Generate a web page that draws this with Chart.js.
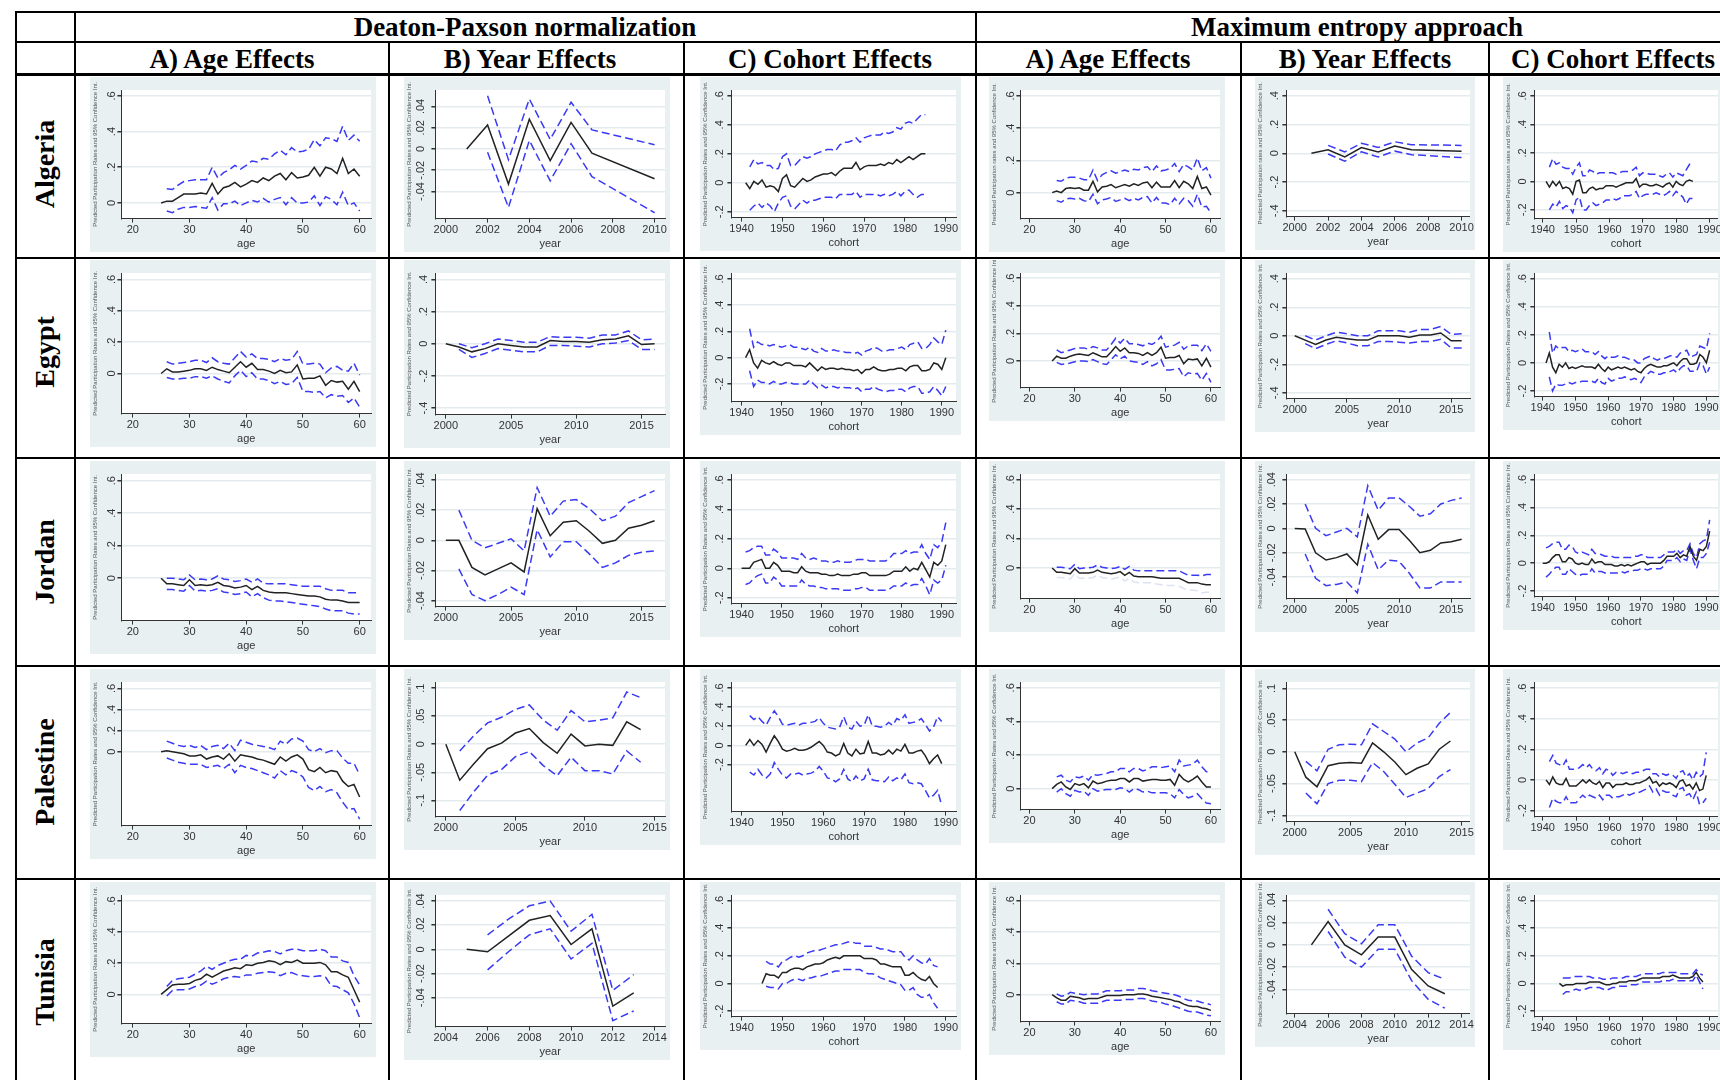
<!DOCTYPE html>
<html>
<head>
<meta charset="utf-8">
<title>Age, year and cohort effects</title>
<script src="https://cdn.jsdelivr.net/npm/chart.js@4.4.1/dist/chart.umd.min.js"></script>
<style>
  html, body { margin: 0; padding: 0; background: #fff; }
  #sheet { position: relative; width: 1720px; height: 1080px; overflow: hidden; background: #fff; }
  .rule { position: absolute; background: #000; }
  .head { position: absolute; font: bold 27px 'Liberation Serif', 'Times New Roman', serif; color: #000;
          white-space: nowrap; line-height: 1; transform: translate(-50%, -50%); }
  .country { font-size: 28px; transform: translate(-50%, -50%) rotate(-90deg); }
  .panel { position: absolute; }
  .panel canvas { display: block; }
</style>
</head>
<body>
<div id="sheet"></div>
<script>
(function () {
    "use strict";

    // ---------- x values ----------
    var ages = [25, 26, 27, 28, 29, 30, 31, 32, 33, 34, 35, 36, 37, 38, 39, 40, 41, 42, 43, 44, 45, 46, 47, 48, 49, 50, 51, 52, 53, 54, 55, 56, 57, 58, 59, 60];
    var algYears = [2001, 2002, 2003, 2004, 2005, 2006, 2007, 2010];
    var egyYears = [2000, 2001, 2002, 2003, 2004, 2005, 2006, 2007, 2008, 2009, 2010, 2011, 2012, 2013, 2014, 2015, 2016];
    var jorYears = [2000, 2001, 2002, 2003, 2004, 2005, 2006, 2007, 2008, 2009, 2010, 2011, 2012, 2013, 2014, 2015, 2016];
    var palYears = [2000, 2001, 2002, 2003, 2004, 2005, 2006, 2007, 2008, 2009, 2010, 2011, 2012, 2013, 2014];
    var tunYears = [2005, 2006, 2007, 2008, 2009, 2010, 2011, 2012, 2013];
    var algCohorts = [1941, 1942, 1943, 1944, 1945, 1946, 1947, 1948, 1949, 1950, 1951, 1952, 1953, 1954, 1955, 1956, 1957, 1958, 1959, 1960, 1961, 1962, 1963, 1964, 1965, 1966, 1967, 1968, 1969, 1970, 1971, 1972, 1973, 1974, 1975, 1976, 1977, 1978, 1979, 1980, 1981, 1982, 1983, 1984, 1985];
    var egyCohorts = [1941, 1942, 1943, 1944, 1945, 1946, 1947, 1948, 1949, 1950, 1951, 1952, 1953, 1954, 1955, 1956, 1957, 1958, 1959, 1960, 1961, 1962, 1963, 1964, 1965, 1966, 1967, 1968, 1969, 1970, 1971, 1972, 1973, 1974, 1975, 1976, 1977, 1978, 1979, 1980, 1981, 1982, 1983, 1984, 1985, 1986, 1987, 1988, 1989, 1990, 1991];
    var jorCohorts = [1940, 1941, 1942, 1943, 1944, 1945, 1946, 1947, 1948, 1949, 1950, 1951, 1952, 1953, 1954, 1955, 1956, 1957, 1958, 1959, 1960, 1961, 1962, 1963, 1964, 1965, 1966, 1967, 1968, 1969, 1970, 1971, 1972, 1973, 1974, 1975, 1976, 1977, 1978, 1979, 1980, 1981, 1982, 1983, 1984, 1985, 1986, 1987, 1988, 1989, 1990, 1991];
    var palCohorts = [1941, 1942, 1943, 1944, 1945, 1946, 1947, 1948, 1949, 1950, 1951, 1952, 1953, 1954, 1955, 1956, 1957, 1958, 1959, 1960, 1961, 1962, 1963, 1964, 1965, 1966, 1967, 1968, 1969, 1970, 1971, 1972, 1973, 1974, 1975, 1976, 1977, 1978, 1979, 1980, 1981, 1982, 1983, 1984, 1985, 1986, 1987, 1988, 1989];
    var tunCohorts = [1945, 1946, 1947, 1948, 1949, 1950, 1951, 1952, 1953, 1954, 1955, 1956, 1957, 1958, 1959, 1960, 1961, 1962, 1963, 1964, 1965, 1966, 1967, 1968, 1969, 1970, 1971, 1972, 1973, 1974, 1975, 1976, 1977, 1978, 1979, 1980, 1981, 1982, 1983, 1984, 1985, 1986, 1987, 1988];

    // ---------- tick labels ----------
    var ageTicksX = [20, 30, 40, 50, 60];
    var ageTicksY = [0, 0.2, 0.4, 0.6];
    var cohortTicksX = [1940, 1950, 1960, 1970, 1980, 1990];
    var cohortTicksY = [-0.2, 0, 0.2, 0.4, 0.6];
    var algYearTicksX = [2000, 2002, 2004, 2006, 2008, 2010];
    var tunYearTicksX = [2004, 2006, 2008, 2010, 2012, 2014];
    var yearTicksX5 = [2000, 2005, 2010, 2015];
    var smallYearTicksY = [-0.04, -0.02, 0, 0.02, 0.04];
    var wideYearTicksY = [-0.4, -0.2, 0, 0.2, 0.4];
    var palYearTicksY = [-0.1, -0.05, 0, 0.05, 0.1];

    // ---------- Algeria ----------
    var algDpAgeEst = [0, .01, .01, .03, .05, .05, .05, .055, .05, .11, .05, .085, .095, .115, .09, .105, .125, .115, .14, .125, .15, .165, .13, .17, .14, .145, .155, .2, .15, .2, .19, .165, .25, .165, .19, .15];
    var algDpAgeHi = [null, .08, .075, .1, .12, .125, .13, .13, .13, .2, .14, .17, .185, .21, .19, .21, .235, .23, .25, .245, .275, .295, .27, .31, .285, .29, .3, .355, .32, .365, .36, .345, .43, .35, .38, .345];
    var algDpAgeLo = [null, -.045, -.055, -.035, -.025, -.025, -.02, -.025, -.03, .03, -.04, -.005, -.005, .01, -.015, 0, .015, .005, .025, .005, .02, .03, -.01, .03, 0, 0, .005, .04, -.015, .035, .02, -.01, .06, -.015, 0, -.045];
    var algDpYearEst = [0, .0225, -.033, .028, -.011, .025, -.004, -.028];
    var algDpYearHi = [null, .05, -.01, .047, .009, .044, .018, .004];
    var algDpYearLo = [null, -.003, -.055, .008, -.03, .005, -.026, -.06];
    var algDpCohEst = [0, -.04, .01, -.01, .02, -.03, -.02, -.03, -.06, .03, .055, -.02, -.03, 0, .03, .01, .02, .04, .05, .06, .06, .07, .05, .08, .1, .1, .1, .14, .09, .11, .12, .12, .12, .13, .12, .14, .13, .16, .14, .16, .18, .16, .18, .2, .2];
    var algDpCohHi = [null, .11, .16, .13, .14, .12, .12, .09, .1, .18, .2, .12, .12, .15, .18, .17, .18, .2, .21, .22, .23, .23, .22, .26, .28, .28, .29, .31, .28, .31, .32, .33, .33, .33, .35, .34, .35, .38, .37, .41, .42, .41, .44, .47, .47];
    var algDpCohLo = [null, -.19, -.16, -.14, -.17, -.14, -.16, -.2, -.14, -.1, -.09, -.16, -.18, -.15, -.12, -.14, -.12, -.12, -.11, -.1, -.1, -.1, -.11, -.08, -.08, -.08, -.08, -.06, -.1, -.08, -.08, -.08, -.08, -.09, -.08, -.09, -.08, -.06, -.09, -.06, -.05, -.08, -.1, -.08, -.08];
    var algMeAgeEst = [0, .01, 0, .025, .03, .025, .03, .015, .015, .07, .005, .035, .04, .05, .03, .04, .05, .04, .055, .045, .06, .065, .03, .065, .035, .035, .035, .075, .03, .07, .055, .025, .1, .025, .035, -.015];
    var algMeAgeHi = [null, .075, .07, .09, .095, .095, .09, .08, .08, .14, .075, .11, .125, .135, .12, .13, .14, .13, .145, .14, .155, .16, .13, .165, .135, .14, .15, .18, .13, .175, .16, .14, .215, .135, .155, .09];
    var algMeAgeLo = [null, -.05, -.06, -.04, -.035, -.04, -.035, -.05, -.055, -.01, -.07, -.045, -.04, -.03, -.055, -.045, -.035, -.05, -.035, -.045, -.03, -.025, -.065, -.03, -.065, -.065, -.075, -.035, -.07, -.035, -.05, -.085, -.01, -.09, -.085, -.125];
    var algMeYearEst = [0, .025, -.025, .04, .01, .05, .025, .015];
    var algMeYearHi = [null, .055, .01, .07, .04, .08, .06, .055];
    var algMeYearLo = [null, -.005, -.055, .01, -.025, .015, -.01, -.03];
    var algMeCohEst = [0, -.04, 0, -.03, 0, -.05, -.04, -.05, -.09, 0, .01, -.08, -.08, -.05, -.04, -.06, -.05, -.05, -.03, -.03, -.03, -.04, -.03, -.02, -.01, -.01, -.01, .02, -.04, -.02, -.02, -.03, -.03, -.02, -.03, -.04, -.02, -.01, -.04, 0, -.02, -.03, 0, .01, 0];
    var algMeCohHi = [null, .1, .16, .12, .13, .1, .09, .09, .05, .1, .13, .04, .04, .08, .07, .05, .06, .06, .06, .06, .06, .05, .06, .07, .07, .07, .08, .1, .04, .06, .06, .05, .05, .05, .04, .03, .05, .06, .03, .06, .05, .04, .08, .12, .12];
    var algMeCohLo = [null, -.2, -.16, -.18, -.14, -.19, -.17, -.18, -.22, -.13, -.11, -.2, -.2, -.17, -.15, -.17, -.16, -.15, -.13, -.13, -.12, -.13, -.12, -.1, -.1, -.1, -.09, -.07, -.12, -.1, -.09, -.09, -.09, -.08, -.09, -.1, -.09, -.07, -.1, -.07, -.09, -.11, -.16, -.12, -.12];

    // ---------- Egypt ----------
    var egyDpAgeEst = [0, .03, .01, .01, .015, .02, .03, .03, .02, .04, .025, .015, .005, .04, .075, .04, .065, .025, .025, .015, 0, .02, .005, .01, .055, -.035, -.03, -.03, -.015, -.075, -.045, -.055, -.05, -.1, -.05, -.115];
    var egyDpAgeHi = [null, .075, .06, .065, .07, .075, .085, .085, .07, .1, .075, .065, .06, .1, .14, .105, .125, .095, .095, .09, .075, .095, .085, .09, .14, .06, .06, .065, .06, .005, .035, .045, .02, .015, .065, -.01];
    var egyDpAgeLo = [null, -.025, -.035, -.035, -.03, -.03, -.02, -.02, -.03, -.015, -.035, -.05, -.06, -.015, .02, -.02, .005, -.035, -.035, -.045, -.065, -.05, -.07, -.065, -.025, -.115, -.115, -.12, -.115, -.155, -.135, -.145, -.14, -.185, -.155, -.215];
    var egyDpYearEst = [0, -.02, -.05, -.03, 0, -.01, -.02, -.02, .02, .015, .015, .01, .025, .03, .05, -.005, 0];
    var egyDpYearHi = [null, 0, -.025, 0, .03, .02, .01, .01, .045, .04, .04, .035, .055, .055, .08, .025, .03];
    var egyDpYearLo = [null, -.035, -.085, -.06, -.03, -.04, -.05, -.05, -.01, -.01, -.015, -.02, 0, .005, .02, -.035, -.035];
    var egyDpCohEst = [0, .06, -.04, -.08, -.02, -.04, -.05, -.03, -.05, -.06, -.04, -.04, -.06, -.06, -.06, -.07, -.04, -.07, -.1, -.07, -.09, -.08, -.08, -.09, -.08, -.09, -.09, -.1, -.09, -.12, -.09, -.09, -.07, -.09, -.1, -.1, -.09, -.09, -.08, -.08, -.1, -.07, -.06, -.06, -.1, -.1, -.09, -.04, -.05, -.09, 0];
    var egyDpCohHi = [null, .22, .08, .12, .1, .1, .09, .1, .09, .08, .09, .1, .08, .08, .07, .06, .08, .05, .04, .07, .05, .05, .06, .05, .05, .04, .04, .03, .04, .02, .05, .06, .08, .07, .05, .05, .06, .06, .07, .08, .06, .1, .11, .12, .07, .07, .1, .15, .12, .1, .21];
    var egyDpCohLo = [null, -.1, -.22, -.17, -.19, -.19, -.2, -.18, -.2, -.2, -.19, -.19, -.2, -.2, -.2, -.2, -.17, -.2, -.23, -.21, -.23, -.22, -.22, -.23, -.22, -.23, -.23, -.24, -.23, -.26, -.24, -.24, -.22, -.24, -.25, -.26, -.25, -.25, -.24, -.24, -.26, -.23, -.22, -.22, -.27, -.27, -.26, -.22, -.25, -.29, -.22];
    var egyMeAgeEst = [0, .035, .02, .02, .035, .045, .05, .045, .04, .06, .045, .03, .03, .065, .105, .07, .095, .06, .06, .055, .04, .06, .04, .06, .1, .02, .025, .025, .04, -.02, .015, .01, .015, -.035, .02, -.045];
    var egyMeAgeHi = [null, .08, .06, .07, .08, .09, .095, .095, .085, .105, .095, .08, .08, .12, .165, .13, .165, .125, .125, .12, .11, .13, .12, .14, .18, .1, .11, .115, .135, .085, .11, .115, .115, .075, .125, .07];
    var egyMeAgeLo = [null, -.01, -.025, -.02, -.015, -.005, 0, 0, -.005, .01, -.005, -.02, -.025, .01, .045, .015, .035, 0, -.005, -.01, -.025, -.005, -.035, -.02, .01, -.065, -.065, -.06, -.055, -.115, -.085, -.095, -.09, -.14, -.09, -.155];
    var egyMeYearEst = [0, -.03, -.06, -.03, -.01, -.02, -.03, -.03, 0, 0, 0, -.01, .005, .005, .02, -.035, -.035];
    var egyMeYearHi = [null, 0, -.03, 0, .025, .015, 0, 0, .035, .035, .035, .025, .045, .045, .065, .01, .015];
    var egyMeYearLo = [null, -.055, -.09, -.06, -.035, -.05, -.07, -.07, -.04, -.04, -.045, -.05, -.04, -.04, -.025, -.085, -.085];
    var egyMeCohEst = [0, .07, -.03, -.07, -.01, -.03, 0, -.04, -.03, -.04, -.03, -.02, -.03, -.03, -.03, -.04, -.01, -.04, -.06, -.03, -.05, -.04, -.03, -.04, -.03, -.04, -.05, -.04, -.06, -.07, -.04, -.02, -.01, -.02, -.03, -.03, -.02, -.02, -.01, 0, -.02, .01, .03, .03, -.01, -.01, 0, .06, .04, 0, .09];
    var egyMeCohHi = [null, .22, .07, .12, .1, .11, .11, .08, .09, .08, .09, .1, .08, .08, .08, .06, .08, .05, .03, .05, .04, .04, .05, .04, .04, .03, .02, .02, 0, 0, .03, .04, .05, .03, .02, .03, .03, .04, .05, .05, .04, .07, .08, .09, .04, .05, .06, .12, .11, .1, .21];
    var egyMeCohLo = [null, -.1, -.2, -.15, -.16, -.16, -.15, -.14, -.15, -.14, -.14, -.13, -.13, -.13, -.13, -.14, -.11, -.14, -.15, -.11, -.13, -.12, -.11, -.11, -.1, -.11, -.12, -.11, -.12, -.14, -.1, -.08, -.06, -.07, -.08, -.08, -.07, -.07, -.06, -.05, -.07, -.04, -.02, -.02, -.06, -.06, -.06, 0, -.02, -.08, -.03];

    // ---------- Jordan ----------
    var jorDpAgeEst = [0, -.035, -.035, -.04, -.045, -.01, -.045, -.04, -.045, -.04, -.025, -.045, -.05, -.06, -.055, -.045, -.07, -.05, -.075, -.085, -.09, -.09, -.09, -.095, -.1, -.105, -.11, -.11, -.115, -.13, -.135, -.135, -.14, -.15, -.15, -.15];
    var jorDpAgeHi = [null, 0, 0, -.005, -.01, .02, -.01, -.005, -.01, -.005, .015, -.005, -.01, -.02, -.015, -.005, -.025, -.005, -.03, -.035, -.035, -.035, -.035, -.04, -.045, -.05, -.05, -.05, -.05, -.065, -.075, -.075, -.075, -.09, -.09, -.09];
    var jorDpAgeLo = [null, -.07, -.07, -.075, -.08, -.045, -.08, -.075, -.08, -.075, -.065, -.085, -.09, -.1, -.095, -.085, -.115, -.095, -.12, -.135, -.14, -.14, -.145, -.15, -.155, -.16, -.165, -.17, -.175, -.19, -.2, -.2, -.2, -.215, -.22, -.22];
    var jorDpYearEst = [0, 0, -.018, -.023, -.019, -.015, -.021, .021, .003, .012, .013, .006, -.002, 0, .008, .01, .013];
    var jorDpYearHi = [null, .02, 0, -.005, -.002, .001, -.007, .035, .016, .026, .027, .021, .013, .016, .025, .029, .033];
    var jorDpYearLo = [null, -.019, -.036, -.04, -.036, -.031, -.036, .007, -.011, -.001, -.001, -.009, -.018, -.015, -.01, -.008, -.007];
    var jorDpCohEst = [0, 0, 0, .04, .05, .06, 0, 0, .04, .02, -.02, -.02, -.02, -.03, -.03, .01, -.02, -.03, -.03, -.03, -.04, -.04, -.05, -.05, -.04, -.05, -.05, -.05, -.04, -.04, -.03, -.03, -.05, -.05, -.05, -.05, -.05, -.04, -.02, -.02, -.02, .01, -.02, 0, -.01, .04, -.01, -.06, .04, .02, .05, .16];
    var jorDpCohHi = [null, .11, .12, .14, .15, .15, .09, .09, .13, .11, .07, .07, .07, .07, .06, .1, .07, .06, .07, .06, .05, .05, .04, .04, .05, .04, .04, .04, .05, .06, .06, .06, .05, .05, .05, .05, .05, .07, .1, .1, .1, .12, .1, .11, .11, .16, .1, .06, .16, .14, .18, .31];
    var jorDpCohLo = [null, -.11, -.1, -.07, -.05, -.04, -.1, -.1, -.06, -.08, -.12, -.12, -.12, -.12, -.12, -.08, -.11, -.12, -.12, -.13, -.13, -.14, -.14, -.14, -.14, -.15, -.15, -.15, -.14, -.14, -.13, -.13, -.15, -.15, -.15, -.15, -.15, -.14, -.12, -.12, -.12, -.1, -.12, -.11, -.11, -.07, -.12, -.18, -.08, -.1, -.08, .02];
    var jorMeAgeEst = [0, -.03, -.03, -.035, -.04, -.005, -.035, -.035, -.035, -.03, -.015, -.03, -.035, -.04, -.035, -.025, -.05, -.03, -.055, -.06, -.06, -.06, -.06, -.065, -.07, -.07, -.07, -.07, -.07, -.085, -.1, -.1, -.1, -.11, -.115, -.115];
    var jorMeAgeHi = [null, .005, .005, 0, -.005, .025, -.005, 0, 0, .005, .02, .005, 0, -.005, 0, .01, -.01, .01, -.015, -.02, -.02, -.02, -.02, -.02, -.02, -.02, -.02, -.02, -.02, -.035, -.05, -.05, -.05, -.055, -.045, -.045];
    var jorMeAgeLo = [null, -.065, -.065, -.07, -.075, -.04, -.07, -.07, -.07, -.065, -.05, -.065, -.07, -.075, -.07, -.06, -.09, -.07, -.095, -.1, -.1, -.1, -.1, -.11, -.115, -.12, -.12, -.12, -.125, -.14, -.15, -.15, -.155, -.17, -.165, -.165];
    var jorMeYearEst = [0, -.0005, -.02, -.026, -.024, -.021, -.03, .011, -.009, -.001, -.001, -.01, -.02, -.018, -.012, -.011, -.009];
    var jorMeYearHi = [null, .02, 0, -.006, -.003, 0, -.007, .035, .015, .025, .025, .018, .01, .012, .02, .023, .025];
    var jorMeYearLo = [null, -.021, -.041, -.047, -.046, -.044, -.053, -.013, -.034, -.026, -.027, -.037, -.049, -.049, -.044, -.044, -.044];
    var jorMeCohEst = [0, 0, .01, .04, .06, .06, .01, .01, .04, .03, 0, -.01, 0, -.01, -.01, .03, 0, .01, .01, -.01, -.01, -.01, -.02, -.02, -.01, -.02, -.01, -.02, -.01, 0, .01, .01, -.01, 0, 0, 0, 0, .02, .05, .05, .05, .07, .04, .06, .05, .12, .05, .02, .1, .09, .12, .23];
    var jorMeCohHi = [null, .11, .12, .14, .15, .15, .1, .1, .13, .12, .08, .07, .08, .07, .06, .1, .07, .07, .06, .05, .05, .05, .04, .04, .04, .04, .04, .04, .05, .05, .06, .06, .04, .04, .04, .04, .04, .06, .08, .08, .08, .1, .07, .09, .09, .14, .07, .04, .14, .16, .17, .31];
    var jorMeCohLo = [null, -.1, -.08, -.05, -.03, -.03, -.08, -.08, -.04, -.06, -.08, -.09, -.08, -.08, -.08, -.04, -.07, -.06, -.06, -.07, -.07, -.07, -.07, -.07, -.06, -.07, -.06, -.06, -.05, -.05, -.04, -.04, -.05, -.04, -.04, -.04, -.04, -.02, .02, .02, .02, .04, .01, .03, .02, .1, .02, -.04, .04, .04, .07, .15];

    // ---------- Palestine ----------
    var palDpAgeEst = [0, .01, 0, -.01, -.02, -.04, -.04, -.03, -.07, -.05, -.04, -.07, -.02, -.09, -.03, -.04, -.05, -.07, -.08, -.1, -.12, -.05, -.09, -.05, -.03, -.07, -.17, -.19, -.15, -.2, -.18, -.19, -.28, -.33, -.31, -.43];
    var palDpAgeHi = [null, .1, .08, .06, .05, .06, .04, .06, .02, .05, .06, .03, .08, .01, .11, .09, .07, .06, .05, .04, .02, .1, .07, .12, .13, .1, .02, 0, .03, -.01, .01, .01, -.06, -.11, -.11, -.22];
    var palDpAgeLo = [null, -.06, -.08, -.1, -.11, -.12, -.12, -.12, -.15, -.14, -.13, -.16, -.12, -.2, -.13, -.15, -.16, -.18, -.2, -.22, -.25, -.18, -.22, -.18, -.2, -.24, -.34, -.37, -.33, -.38, -.36, -.39, -.48, -.55, -.54, -.64];
    var palDpYearEst = [0, -.064, -.035, -.008, .002, .02, .028, .003, -.016, .018, -.003, 0, -.002, .04, .026];
    var palDpYearHi = [null, -.012, .015, .038, .048, .062, .07, .043, .025, .06, .04, .043, .047, .093, .083];
    var palDpYearLo = [null, -.118, -.085, -.055, -.045, -.022, -.013, -.038, -.056, -.023, -.047, -.047, -.053, -.012, -.032];
    var palDpCohEst = [0, .06, 0, .05, .01, -.07, .02, .1, .04, -.04, -.06, -.05, -.03, -.05, -.05, -.04, -.02, .01, .04, 0, -.07, -.08, -.11, -.09, .02, -.08, -.11, -.04, -.09, -.08, .04, -.08, -.08, -.1, -.09, -.05, -.09, -.04, -.06, .01, -.08, -.08, -.06, -.05, -.11, -.19, -.14, -.1, -.19];
    var palDpCohHi = [null, .31, .27, .3, .25, .21, .29, .36, .3, .22, .21, .22, .23, .21, .23, .23, .24, .25, .29, .23, .19, .18, .17, .19, .3, .19, .17, .25, .2, .21, .32, .2, .2, .19, .2, .24, .21, .28, .26, .32, .23, .24, .25, .28, .22, .15, .19, .3, .25];
    var palDpCohLo = [null, -.28, -.31, -.25, -.31, -.34, -.3, -.18, -.25, -.31, -.34, -.3, -.3, -.29, -.31, -.3, -.29, -.27, -.22, -.27, -.34, -.35, -.38, -.35, -.25, -.35, -.38, -.32, -.37, -.35, -.25, -.36, -.37, -.37, -.38, -.33, -.37, -.34, -.36, -.3, -.39, -.4, -.39, -.4, -.47, -.55, -.52, -.47, -.63];
    var palMeAgeEst = [0, .025, .04, .01, -.005, .03, .02, .03, .005, .045, .03, .035, .045, .05, .05, .06, .06, .04, .06, .06, .045, .05, .055, .055, .05, .05, .055, .02, .085, .055, .04, .055, .075, .04, .01, .01];
    var palMeAgeHi = [null, .07, .08, .05, .04, .07, .065, .075, .05, .085, .08, .085, .09, .1, .1, .12, .12, .1, .12, .12, .105, .115, .13, .13, .125, .13, .135, .1, .17, .135, .14, .145, .17, .13, .1, .1];
    var palMeAgeLo = [null, -.02, 0, -.03, -.045, -.01, -.02, -.015, -.04, 0, -.015, -.01, -.005, -.005, -.005, .005, 0, -.02, 0, -.005, -.02, -.015, -.025, -.025, -.025, -.025, -.03, -.055, -.005, -.035, -.055, -.045, -.03, -.06, -.085, -.09];
    var palMeYearEst = [0, -.04, -.055, -.022, -.018, -.017, -.018, .014, 0, -.016, -.036, -.026, -.019, .004, .017];
    var palMeYearHi = [null, -.015, -.03, .004, .011, .012, .011, .044, .032, .02, 0, .014, .022, .045, .062];
    var palMeYearLo = [null, -.065, -.082, -.05, -.045, -.045, -.047, -.017, -.031, -.051, -.072, -.065, -.058, -.039, -.028];
    var palMeCohEst = [0, -.03, .02, -.02, -.03, -.03, .01, -.04, -.04, -.04, -.02, 0, -.02, 0, -.02, -.03, -.01, -.05, -.02, -.02, -.05, -.03, -.03, -.03, -.02, -.03, -.03, -.02, -.02, -.01, 0, .02, -.02, -.01, -.04, -.02, -.03, -.02, -.03, -.05, -.01, 0, -.04, -.03, -.06, -.02, -.07, -.06, .03];
    var palMeCohHi = [null, .12, .16, .11, .1, .09, .13, .07, .07, .07, .08, .1, .08, .1, .07, .06, .08, .04, .07, .06, .03, .05, .05, .04, .05, .05, .04, .05, .05, .06, .07, .07, .04, .04, .02, .04, .03, .04, .03, .01, .05, .06, .02, .04, 0, .05, .02, .04, .18];
    var palMeCohLo = [null, -.18, -.12, -.14, -.15, -.15, -.11, -.15, -.15, -.15, -.12, -.1, -.12, -.1, -.11, -.12, -.1, -.13, -.1, -.1, -.12, -.11, -.11, -.1, -.09, -.1, -.09, -.08, -.08, -.07, -.06, -.04, -.08, -.06, -.1, -.07, -.08, -.08, -.1, -.11, -.06, -.05, -.1, -.09, -.13, -.08, -.16, -.15, -.12];

    // ---------- Tunisia ----------
    var tunDpAgeEst = [0, .03, .06, .065, .065, .07, .09, .1, .13, .11, .13, .15, .16, .17, .165, .19, .185, .2, .205, .215, .21, .19, .21, .205, .22, .2, .2, .2, .205, .19, .145, .145, .125, .11, .03, -.05];
    var tunDpAgeHi = [null, .05, .09, .1, .105, .11, .13, .15, .18, .16, .185, .2, .215, .225, .225, .25, .245, .265, .27, .28, .275, .26, .28, .29, .29, .28, .28, .28, .29, .28, .24, .24, .215, .205, .12, .06];
    var tunDpAgeLo = [null, -.01, .025, .03, .03, .035, .05, .06, .085, .065, .08, .1, .11, .115, .11, .125, .125, .135, .14, .145, .14, .12, .135, .14, .125, .12, .115, .115, .12, .11, .055, .05, .03, .01, -.06, -.15];
    var tunDpYearEst = [0, -.002, .011, .024, .028, .004, .017, -.047, -.036];
    var tunDpYearHi = [null, .012, .025, .036, .04, .015, .029, -.034, -.021];
    var tunDpYearLo = [null, -.017, -.002, .012, .017, -.008, .005, -.059, -.051];
    var tunDpCohEst = [0, .07, .06, .06, .04, .08, .08, .1, .11, .11, .1, .12, .13, .14, .14, .15, .17, .18, .19, .18, .2, .2, .2, .2, .2, .18, .18, .18, .17, .14, .14, .13, .12, .12, .12, .06, .06, .08, .05, .03, .02, .05, 0, -.03];
    var tunDpCohHi = [null, .16, .14, .14, .12, .16, .17, .19, .2, .19, .2, .22, .23, .24, .24, .25, .26, .27, .28, .28, .29, .3, .3, .29, .29, .27, .27, .27, .26, .25, .25, .24, .23, .23, .23, .19, .17, .2, .17, .15, .14, .18, .13, .12];
    var tunDpCohLo = [null, -.02, -.03, -.03, -.04, 0, 0, .02, .03, .03, .02, .04, .04, .05, .05, .06, .07, .08, .09, .09, .1, .1, .1, .1, .1, .08, .07, .07, .06, .04, .03, .02, .01, 0, -.01, -.05, -.05, -.03, -.08, -.1, -.1, -.08, -.14, -.18];
    var tunMeAgeEst = [0, -.02, -.035, -.035, -.01, -.015, -.02, -.03, -.025, -.025, -.025, -.015, -.005, -.005, -.005, -.005, 0, 0, 0, .005, .005, 0, -.01, -.015, -.02, -.025, -.03, -.04, -.045, -.06, -.07, -.075, -.075, -.085, -.09, -.1];
    var tunMeAgeHi = [null, .005, -.01, -.005, .015, .01, .005, 0, .005, .005, .005, .015, .025, .025, .025, .025, .03, .03, .03, .04, .04, .035, .025, .02, .015, .01, .005, 0, -.01, -.025, -.035, -.04, -.04, -.05, -.055, -.065];
    var tunMeAgeLo = [null, -.045, -.06, -.06, -.035, -.04, -.045, -.055, -.055, -.055, -.055, -.045, -.035, -.035, -.035, -.035, -.03, -.03, -.03, -.025, -.025, -.03, -.04, -.045, -.05, -.06, -.065, -.075, -.085, -.095, -.105, -.11, -.11, -.12, -.13, -.135];
    var tunMeYearEst = [0, .021, 0, -.009, .007, .007, -.022, -.037, -.044];
    var tunMeYearHi = [null, .032, .01, .001, .018, .018, -.01, -.025, -.031];
    var tunMeYearLo = [null, .012, -.011, -.02, -.004, -.004, -.032, -.049, -.057];
    var tunMeCohEst = [0, -.02, -.01, -.01, -.01, 0, 0, 0, 0, .01, .01, .01, .01, 0, -.01, -.01, 0, 0, .01, .01, .01, .02, .02, .02, .03, .04, .04, .04, .04, .04, .04, .05, .05, .05, .06, .05, .04, .04, .04, .04, .05, .08, .04, .01];
    var tunMeCohHi = [null, .04, .04, .04, .05, .05, .05, .05, .05, .05, .04, .04, .04, .03, .03, .03, .04, .04, .04, .04, .05, .05, .05, .05, .06, .07, .07, .07, .07, .07, .07, .08, .08, .08, .08, .08, .07, .07, .07, .07, .07, .1, .07, .06];
    var tunMeCohLo = [null, -.08, -.06, -.06, -.05, -.04, -.05, -.04, -.04, -.03, -.03, -.03, -.03, -.04, -.05, -.04, -.03, -.03, -.02, -.02, -.02, -.01, -.01, -.01, 0, .01, .01, .01, .01, .01, .01, .02, .02, .02, .03, .02, .02, .02, .02, .02, .02, .06, .01, -.04];

    // ---------- page layout ----------
    var titleRates = 'Predicted Participation Rates and 95% Confidence Int.';
    var titleRatesLc = 'Predicted Participation rates and 95% Confidence Int.';
    var colSpan = [[90, 376], [404, 670], [700, 961], [989, 1225], [1255, 1475], [1503, 1723]];
    var rowBox = {
        alg: { top: 77, bottoms: [252, 252, 251, 252, 250, 252] },
        egy: { top: 260, bottoms: [447, 448, 435, 421, 432, 430] },
        jor: { top: 461, bottoms: [654, 640, 637, 632, 632, 630] },
        pal: { top: 669, bottoms: [859, 850, 845, 843, 855, 850] },
        tun: { top: 882, bottoms: [1057, 1060, 1050, 1055, 1047, 1050] }
    };

    // row, column, x, estimate, upper, lower, x ticks, y ticks, x title, y title, faint lower bound
    var panels = [
        ['alg', 0, ages, algDpAgeEst, algDpAgeHi, algDpAgeLo, ageTicksX, ageTicksY, 'age', titleRates],
        ['alg', 1, algYears, algDpYearEst, algDpYearHi, algDpYearLo, algYearTicksX, smallYearTicksY, 'year', titleRates],
        ['alg', 2, algCohorts, algDpCohEst, algDpCohHi, algDpCohLo, cohortTicksX, cohortTicksY, 'cohort', titleRates],
        ['alg', 3, ages, algMeAgeEst, algMeAgeHi, algMeAgeLo, ageTicksX, ageTicksY, 'age', titleRatesLc],
        ['alg', 4, algYears, algMeYearEst, algMeYearHi, algMeYearLo, algYearTicksX, wideYearTicksY, 'year', titleRatesLc],
        ['alg', 5, algCohorts, algMeCohEst, algMeCohHi, algMeCohLo, cohortTicksX, cohortTicksY, 'cohort', titleRatesLc],

        ['egy', 0, ages, egyDpAgeEst, egyDpAgeHi, egyDpAgeLo, ageTicksX, ageTicksY, 'age', titleRates],
        ['egy', 1, egyYears, egyDpYearEst, egyDpYearHi, egyDpYearLo, yearTicksX5, wideYearTicksY, 'year', titleRates],
        ['egy', 2, egyCohorts, egyDpCohEst, egyDpCohHi, egyDpCohLo, cohortTicksX, cohortTicksY, 'cohort', titleRates],
        ['egy', 3, ages, egyMeAgeEst, egyMeAgeHi, egyMeAgeLo, ageTicksX, ageTicksY, 'age', titleRates],
        ['egy', 4, egyYears, egyMeYearEst, egyMeYearHi, egyMeYearLo, yearTicksX5, wideYearTicksY, 'year', titleRates],
        ['egy', 5, egyCohorts, egyMeCohEst, egyMeCohHi, egyMeCohLo, cohortTicksX, cohortTicksY, 'cohort', titleRates],

        ['jor', 0, ages, jorDpAgeEst, jorDpAgeHi, jorDpAgeLo, ageTicksX, ageTicksY, 'age', titleRates],
        ['jor', 1, jorYears, jorDpYearEst, jorDpYearHi, jorDpYearLo, yearTicksX5, smallYearTicksY, 'year', titleRates],
        ['jor', 2, jorCohorts, jorDpCohEst, jorDpCohHi, jorDpCohLo, cohortTicksX, cohortTicksY, 'cohort', titleRates],
        ['jor', 3, ages, jorMeAgeEst, jorMeAgeHi, jorMeAgeLo, ageTicksX, ageTicksY, 'age', titleRates, true],
        ['jor', 4, jorYears, jorMeYearEst, jorMeYearHi, jorMeYearLo, yearTicksX5, smallYearTicksY, 'year', titleRates],
        ['jor', 5, jorCohorts, jorMeCohEst, jorMeCohHi, jorMeCohLo, cohortTicksX, cohortTicksY, 'cohort', titleRates],

        ['pal', 0, ages, palDpAgeEst, palDpAgeHi, palDpAgeLo, ageTicksX, ageTicksY, 'age', titleRates],
        ['pal', 1, palYears, palDpYearEst, palDpYearHi, palDpYearLo, yearTicksX5, palYearTicksY, 'year', titleRates],
        ['pal', 2, palCohorts, palDpCohEst, palDpCohHi, palDpCohLo, cohortTicksX, cohortTicksY, 'cohort', titleRates],
        ['pal', 3, ages, palMeAgeEst, palMeAgeHi, palMeAgeLo, ageTicksX, ageTicksY, 'age', titleRates],
        ['pal', 4, palYears, palMeYearEst, palMeYearHi, palMeYearLo, yearTicksX5, palYearTicksY, 'year', titleRates],
        ['pal', 5, palCohorts, palMeCohEst, palMeCohHi, palMeCohLo, cohortTicksX, cohortTicksY, 'cohort', titleRates],

        ['tun', 0, ages, tunDpAgeEst, tunDpAgeHi, tunDpAgeLo, ageTicksX, ageTicksY, 'age', titleRates],
        ['tun', 1, tunYears, tunDpYearEst, tunDpYearHi, tunDpYearLo, tunYearTicksX, smallYearTicksY, 'year', titleRates],
        ['tun', 2, tunCohorts, tunDpCohEst, tunDpCohHi, tunDpCohLo, cohortTicksX, cohortTicksY, 'cohort', titleRates],
        ['tun', 3, ages, tunMeAgeEst, tunMeAgeHi, tunMeAgeLo, ageTicksX, ageTicksY, 'age', titleRates],
        ['tun', 4, tunYears, tunMeYearEst, tunMeYearHi, tunMeYearLo, tunYearTicksX, smallYearTicksY, 'year', titleRates],
        ['tun', 5, tunCohorts, tunMeCohEst, tunMeCohHi, tunMeCohLo, cohortTicksX, cohortTicksY, 'cohort', titleRates]
    ];

    var sheet = document.getElementById('sheet');

    // Table rules: [left, top, width, height]
    var rules = [
        [16, 11, 1704, 2], [16, 41, 1704, 2], [16, 73, 1704, 3],
        [16, 257, 1704, 2], [16, 457, 1704, 2], [16, 665, 1704, 2], [16, 878, 1704, 2],
        [15, 11, 2, 1069], [74, 11, 2, 1069], [975, 11, 2, 1069],
        [388, 41, 2, 1039], [683, 41, 2, 1039], [1240, 41, 2, 1039], [1488, 41, 2, 1039]
    ];
    rules.forEach(function (r) {
        var d = document.createElement('div');
        d.className = 'rule';
        d.style.cssText = 'left:' + r[0] + 'px;top:' + r[1] + 'px;width:' + r[2] + 'px;height:' + r[3] + 'px;';
        sheet.appendChild(d);
    });

    // Headings: [text, centre x, centre y, extra class]
    var heads = [
        ['Deaton-Paxson normalization', 525, 27, ''],
        ['Maximum entropy approach', 1357, 27, ''],
        ['A) Age Effects', 232, 59, ''], ['B) Year Effects', 530, 59, ''], ['C) Cohort Effects', 830, 59, ''],
        ['A) Age Effects', 1108, 59, ''], ['B) Year Effects', 1365, 59, ''], ['C) Cohort Effects', 1613, 59, ''],
        ['Algeria', 45, 164, 'country'], ['Egypt', 45, 352, 'country'], ['Jordan', 45, 562, 'country'],
        ['Palestine', 45, 772, 'country'], ['Tunisia', 45, 982, 'country']
    ];
    heads.forEach(function (h) {
        var d = document.createElement('div');
        d.className = 'head ' + h[3];
        d.textContent = h[0];
        d.style.left = h[1] + 'px';
        d.style.top = h[2] + 'px';
        sheet.appendChild(d);
    });

    // Stata look: bluish-grey graph region, white plot region
    var stataBg = {
        id: 'stataBg',
        beforeDraw: function (chart) {
            var ctx = chart.ctx, a = chart.chartArea;
            ctx.save();
            ctx.fillStyle = '#e8f0f2';
            ctx.fillRect(0, 0, chart.width, chart.height);
            ctx.fillStyle = '#ffffff';
            ctx.fillRect(a.left, a.top, a.right - a.left, a.bottom - a.top);
            ctx.restore();
        }
    };

    Chart.defaults.font.family = "'Liberation Sans', Arial, sans-serif";
    Chart.defaults.color = '#333';

    function stataNum(v) {
        if (v === 0) return '0';
        var s = String(Math.abs(v)).replace(/^0\./, '.');
        return (v < 0 ? '-' : '') + s;
    }

    function axisRange(values, ticks) {
        var all = values.concat(ticks).filter(function (v) { return v !== null; });
        var lo = Math.min.apply(null, all), hi = Math.max.apply(null, all);
        var pad = (hi - lo) * 0.05;
        return [lo - pad, hi + pad];
    }

    function pts(xs, ys) {
        return xs.map(function (x, i) { return { x: x, y: ys[i] }; });
    }

    var blue = 'rgb(58, 58, 245)';

    panels.forEach(function (p) {
        var box = rowBox[p[0]], span = colSpan[p[1]];
        var w = span[1] - span[0], h = box.bottoms[p[1]] - box.top;
        var wrap = document.createElement('div');
        wrap.className = 'panel';
        wrap.style.cssText = 'left:' + span[0] + 'px;top:' + box.top + 'px;width:' + w + 'px;height:' + h + 'px;';
        var cv = document.createElement('canvas');
        cv.width = w;
        cv.height = h;
        wrap.appendChild(cv);
        sheet.appendChild(wrap);

        var xs = p[2], est = p[3], hi = p[4], lo = p[5], xt = p[6], yt = p[7];
        var xr = axisRange(xs, xt);
        var yr = axisRange(est.concat(hi, lo), yt);

        new Chart(cv.getContext('2d'), {
            type: 'line',
            data: {
                datasets: [
                    { data: pts(xs, est), borderColor: '#222', borderWidth: 1.5 },
                    { data: pts(xs, hi), borderColor: blue, borderWidth: 1.5, borderDash: [8, 4] },
                    { data: pts(xs, lo), borderColor: p[10] ? '#dde1f2' : blue, borderWidth: 1.5, borderDash: [8, 4] }
                ]
            },
            options: {
                responsive: false,
                animation: false,
                devicePixelRatio: 1,
                layout: { padding: { top: 13, right: 5, bottom: 1, left: 2 } },
                plugins: { legend: { display: false }, tooltip: { enabled: false } },
                elements: { point: { radius: 0 }, line: { tension: 0, fill: false } },
                scales: {
                    x: {
                        type: 'linear',
                        min: xr[0],
                        max: xr[1],
                        afterBuildTicks: function (axis) { axis.ticks = xt.map(function (v) { return { value: v }; }); },
                        grid: { drawOnChartArea: false, tickLength: 4, tickColor: '#333' },
                        border: { color: '#333' },
                        ticks: { autoSkip: false, maxRotation: 0, padding: 1, font: { size: 11 },
                                 callback: function (v) { return String(v); } },
                        title: { display: true, text: p[8], font: { size: 11 }, padding: 0 }
                    },
                    y: {
                        type: 'linear',
                        min: yr[0],
                        max: yr[1],
                        afterBuildTicks: function (axis) { axis.ticks = yt.map(function (v) { return { value: v }; }); },
                        grid: { color: '#e3ebee', lineWidth: 1.5, tickLength: 4, tickColor: '#333' },
                        border: { color: '#333' },
                        ticks: { autoSkip: false, minRotation: 90, maxRotation: 90, crossAlign: 'center',
                                 padding: 1, font: { size: 11 }, callback: stataNum },
                        title: { display: true, text: p[9], font: { size: 6 }, color: '#555',
                                 padding: { top: 0, bottom: 3 } }
                    }
                }
            },
            plugins: [stataBg]
        });
    });
})();
</script>
</body>
</html>
